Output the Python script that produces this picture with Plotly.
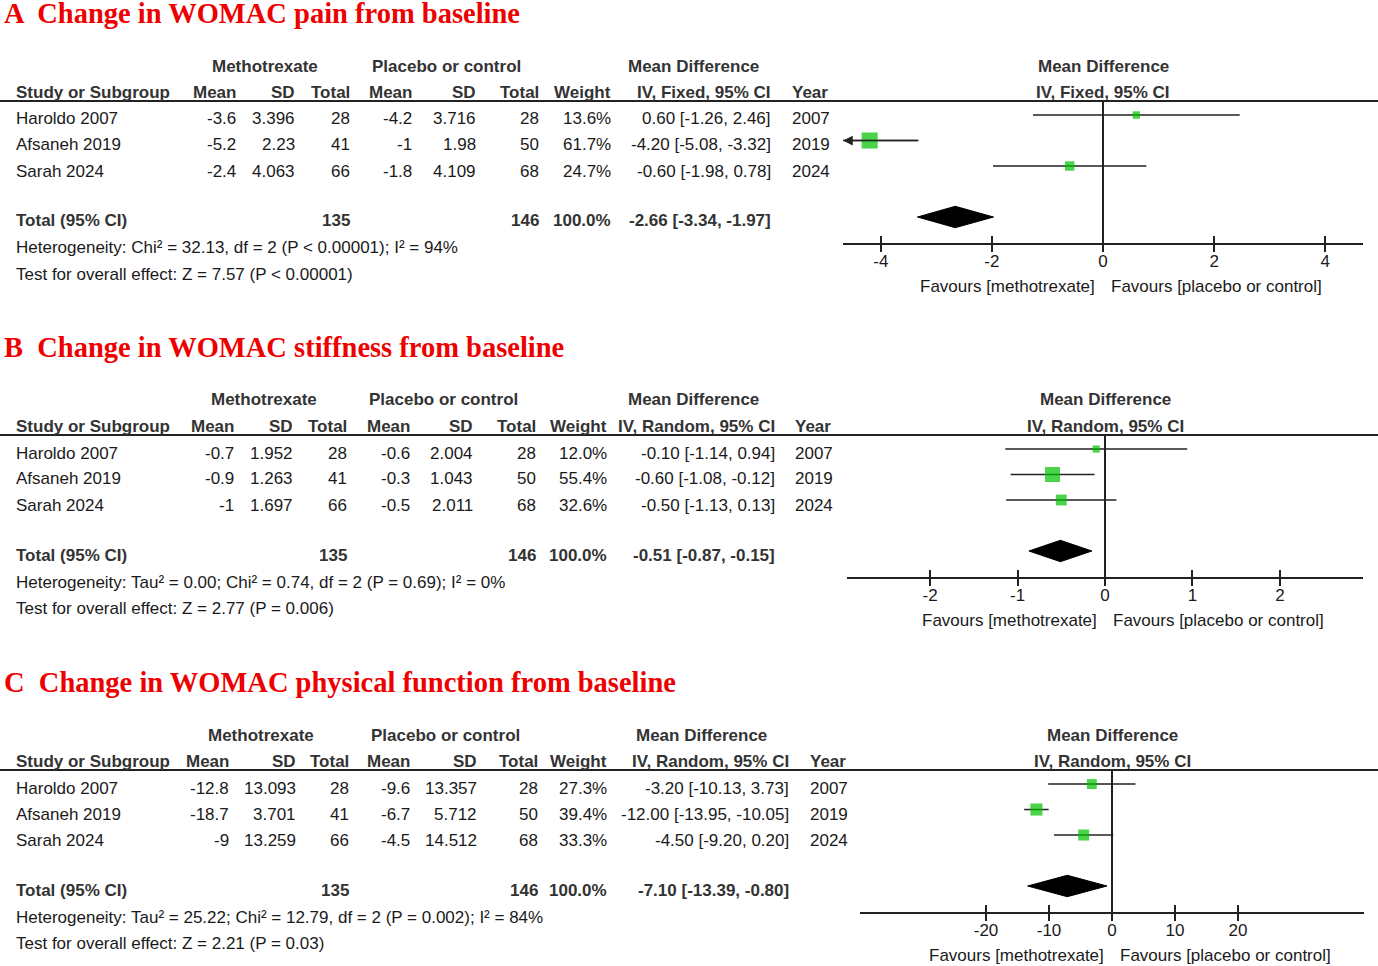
import plotly.graph_objects as go

W, H = 1378, 966

# shared study info
studies = ["Haroldo 2007", "Afsaneh 2019", "Sarah 2024"]
years = [2007, 2019, 2024]
mtx_n = [28, 41, 66]
ctl_n = [28, 50, 68]
mtx_total_n = 135
ctl_total_n = 146

# A - pain
pain_mtx_mean = [-3.6, -5.2, -2.4]
pain_mtx_sd = [3.396, 2.23, 4.063]
pain_ctl_mean = [-4.2, -1, -1.8]
pain_ctl_sd = [3.716, 1.98, 4.109]
pain_weight = [13.6, 61.7, 24.7]
pain_md = [0.60, -4.20, -0.60]
pain_lo = [-1.26, -5.08, -1.98]
pain_hi = [2.46, -3.32, 0.78]
pain_total = [-2.66, -3.34, -1.97]
pain_ticks = [-4, -2, 0, 2, 4]

# B - stiffness
stiff_mtx_mean = [-0.7, -0.9, -1]
stiff_mtx_sd = [1.952, 1.263, 1.697]
stiff_ctl_mean = [-0.6, -0.3, -0.5]
stiff_ctl_sd = [2.004, 1.043, 2.011]
stiff_weight = [12.0, 55.4, 32.6]
stiff_md = [-0.10, -0.60, -0.50]
stiff_lo = [-1.14, -1.08, -1.13]
stiff_hi = [0.94, -0.12, 0.13]
stiff_total = [-0.51, -0.87, -0.15]
stiff_ticks = [-2, -1, 0, 1, 2]

# C - physical function
func_mtx_mean = [-12.8, -18.7, -9]
func_mtx_sd = [13.093, 3.701, 13.259]
func_ctl_mean = [-9.6, -6.7, -4.5]
func_ctl_sd = [13.357, 5.712, 14.512]
func_weight = [27.3, 39.4, 33.3]
func_md = [-3.20, -12.00, -4.50]
func_lo = [-10.13, -13.95, -9.20]
func_hi = [3.73, -10.05, 0.20]
func_total = [-7.10, -13.39, -0.80]
func_ticks = [-20, -10, 0, 10, 20]

panels = [
    dict(title="A  Change in WOMAC pain from baseline", method="IV, Fixed, 95% CI",
         het="Heterogeneity: Chi² = 32.13, df = 2 (P < 0.00001); I² = 94%",
         test="Test for overall effect: Z = 7.57 (P < 0.00001)",
         mm=pain_mtx_mean, ms=pain_mtx_sd, cm=pain_ctl_mean, cs=pain_ctl_sd,
         w=pain_weight, md=pain_md, lo=pain_lo, hi=pain_hi, tot=pain_total, ticks=pain_ticks,
         # layout (pixels)
         y0=0, ty=13, rng=[-4.68, 4.68], dom=[843, 1363],
         cols=[238, 297, 352, 414, 478, 541, 613, 773, 790], groups=[265, 446, 693]),
    dict(title="B  Change in WOMAC stiffness from baseline", method="IV, Random, 95% CI",
         het="Heterogeneity: Tau² = 0.00; Chi² = 0.74, df = 2 (P = 0.69); I² = 0%",
         test="Test for overall effect: Z = 2.77 (P = 0.006)",
         mm=stiff_mtx_mean, ms=stiff_mtx_sd, cm=stiff_ctl_mean, cs=stiff_ctl_sd,
         w=stiff_weight, md=stiff_md, lo=stiff_lo, hi=stiff_hi, tot=stiff_total, ticks=stiff_ticks,
         y0=334, ty=347, rng=[-2.95, 2.95], dom=[847, 1363],
         cols=[236, 295, 349, 412, 475, 538, 609, 777, 793], groups=[264, 443, 693]),
    dict(title="C  Change in WOMAC physical function from baseline", method="IV, Random, 95% CI",
         het="Heterogeneity: Tau² = 25.22; Chi² = 12.79, df = 2 (P = 0.002); I² = 84%",
         test="Test for overall effect: Z = 2.21 (P = 0.03)",
         mm=func_mtx_mean, ms=func_mtx_sd, cm=func_ctl_mean, cs=func_ctl_sd,
         w=func_weight, md=func_md, lo=func_lo, hi=func_hi, tot=func_total, ticks=func_ticks,
         y0=669, ty=682, rng=[-40, 40], dom=[860, 1364],
         cols=[231, 298, 351, 412, 479, 540, 609, 791, 808], groups=[261, 445, 701]),
]

INK = "#222222"
GREEN = "#00c000"
BODY = dict(family="Liberation Sans, Arial, sans-serif", size=17, color="#1a1a1a")
HEAD = dict(family="Liberation Sans, Arial, sans-serif", size=17, color="#333333", weight="bold")
TITLE = dict(family="Liberation Serif, Times New Roman, serif", size=28.5, color="#ee0000", weight="bold")

annotations = []
shapes = []


def txt(x, y, s, anchor="left", font=BODY):
    annotations.append(dict(x=x / W, y=1 - y / H, xref="paper", yref="paper", text=s,
                            showarrow=False, xanchor=anchor, yanchor="middle", font=font))


def num(v):
    return f"{v:g}"


fig = go.Figure()
layout = {}

for i, p in enumerate(panels):
    k = "" if i == 0 else str(i + 1)
    xa, ya = "x" + k, "y" + k
    y0 = p["y0"]
    c = p["cols"]
    g = p["groups"]

    # title
    txt(2, p["ty"], p["title"], font=TITLE)

    # group headers + column headers
    txt(g[0], y0 + 66, "Methotrexate", "center", HEAD)
    txt(g[1], y0 + 66, "Placebo or control", "center", HEAD)
    txt(g[2], y0 + 66, "Mean Difference", "center", HEAD)
    txt(14, y0 + 92, "Study or Subgroup", font=HEAD)
    for cx, lab in zip(c[:8], ["Mean", "SD", "Total", "Mean", "SD", "Total", "Weight", p["method"]]):
        txt(cx, y0 + 92, lab, "right", HEAD)
    txt(c[8], y0 + 92, "Year", font=HEAD)
    shapes.append(dict(type="line", xref="paper", yref="paper", x0=0, x1=1,
                       y0=1 - (y0 + 101) / H, y1=1 - (y0 + 101) / H, line=dict(color=INK, width=2)))

    # study rows
    for r in range(len(studies)):
        ry = y0 + 119 + 26 * r
        txt(14, ry, studies[r])
        vals = [num(p["mm"][r]), num(p["ms"][r]), str(mtx_n[r]), num(p["cm"][r]), num(p["cs"][r]),
                str(ctl_n[r]), f"{p['w'][r]:.1f}%",
                f"{p['md'][r]:.2f} [{p['lo'][r]:.2f}, {p['hi'][r]:.2f}]"]
        for cx, v in zip(c[:8], vals):
            txt(cx, ry, v, "right")
        txt(c[8], ry, str(years[r]))

    # total row
    ty = y0 + 221
    est, tlo, thi = p["tot"]
    txt(14, ty, "Total (95% CI)", font=HEAD)
    txt(c[2], ty, str(mtx_total_n), "right", HEAD)
    txt(c[5], ty, str(ctl_total_n), "right", HEAD)
    txt(c[6], ty, "100.0%", "right", HEAD)
    txt(c[7], ty, f"{est:.2f} [{tlo:.2f}, {thi:.2f}]", "right", HEAD)
    txt(14, y0 + 248, p["het"])
    txt(14, y0 + 274, p["test"])

    # forest plot
    rng = p["rng"]
    rows = list(range(len(studies)))
    xs, ys = [], []
    for r, lo, hi in zip(rows, p["lo"], p["hi"]):
        xs += [max(lo, rng[0]), min(hi, rng[1]), None]
        ys += [r, r, None]
        if lo < rng[0]:
            # CI runs past the axis: arrow at the edge
            annotations.append(dict(x=rng[0], y=r, ax=hi, ay=r, xref=xa, yref=ya, axref=xa, ayref=ya,
                                    text="", showarrow=True, arrowhead=2, arrowsize=1.3,
                                    arrowwidth=1.5, arrowcolor=INK, standoff=0))
    fig.add_trace(go.Scatter(x=xs, y=ys, mode="lines", line=dict(color=INK, width=1.5),
                             xaxis=xa, yaxis=ya, hoverinfo="skip"))
    fig.add_trace(go.Scatter(x=p["md"], y=rows, mode="markers", xaxis=xa, yaxis=ya,
                             marker=dict(symbol="square", color=GREEN, line=dict(width=0),
                                         size=[5 + 0.18 * w for w in p["w"]])))
    tr = len(studies) + 1
    fig.add_trace(go.Scatter(x=[tlo, est, thi, est, tlo], y=[tr, tr - 0.42, tr, tr + 0.42, tr],
                             mode="lines", fill="toself", fillcolor="black",
                             line=dict(color="black", width=1), xaxis=xa, yaxis=ya))
    # helper trace for the upward tick axis
    xo = "x" + str(i + 4)
    fig.add_trace(go.Scatter(x=[p["ticks"][0]], y=[0], mode="markers", marker=dict(opacity=0),
                             xaxis=xo, yaxis=ya, hoverinfo="skip"))

    dom = [p["dom"][0] / W, p["dom"][1] / W]
    ydom = [1 - (y0 + 243) / H, 1 - (y0 + 101) / H]
    layout["xaxis" + k] = dict(domain=dom, range=rng, anchor=ya, tickvals=p["ticks"],
                               ticktext=[num(t) for t in p["ticks"]],
                               ticks="outside", ticklen=7, tickwidth=1.5, tickcolor=INK,
                               ticklabelstandoff=-5,
                               showline=True, linecolor=INK, linewidth=1.5,
                               zeroline=True, zerolinecolor=INK, zerolinewidth=1.5,
                               showgrid=False, tickfont=BODY, fixedrange=True)
    layout["xaxis" + str(i + 4)] = dict(domain=dom, range=rng, anchor=ya, overlaying=xa,
                                        tickvals=p["ticks"], ticks="inside", ticklen=7,
                                        tickwidth=1.5, tickcolor=INK, showticklabels=False,
                                        showline=False, zeroline=False, showgrid=False)
    layout["yaxis" + k] = dict(domain=ydom, range=[5.02, -0.55], showgrid=False, zeroline=False,
                               showticklabels=False, showline=False, ticks="", fixedrange=True)

    # right-hand headers and favours labels
    annotations.append(dict(x=0, xref=xa, y=1 - (y0 + 66) / H, yref="paper", text="Mean Difference",
                            showarrow=False, xanchor="center", yanchor="middle", font=HEAD))
    annotations.append(dict(x=0, xref=xa, y=1 - (y0 + 92) / H, yref="paper", text=p["method"],
                            showarrow=False, xanchor="center", yanchor="middle", font=HEAD))
    annotations.append(dict(x=0, xref=xa, y=1 - (y0 + 286) / H, yref="paper",
                            text="Favours [methotrexate]", showarrow=False, xanchor="right",
                            xshift=-6, yanchor="middle", font=BODY))
    annotations.append(dict(x=0, xref=xa, y=1 - (y0 + 286) / H, yref="paper",
                            text="Favours [placebo or control]", showarrow=False, xanchor="left",
                            xshift=6, yanchor="middle", font=BODY))

fig.update_layout(**layout)
fig.update_layout(width=W, height=H, margin=dict(l=0, r=0, t=0, b=0), showlegend=False,
                  paper_bgcolor="white", plot_bgcolor="white",
                  annotations=annotations, shapes=shapes)

fig.write_html("out.html", config={"displayModeBar": False},
               post_script="document.body.style.margin='0';")
